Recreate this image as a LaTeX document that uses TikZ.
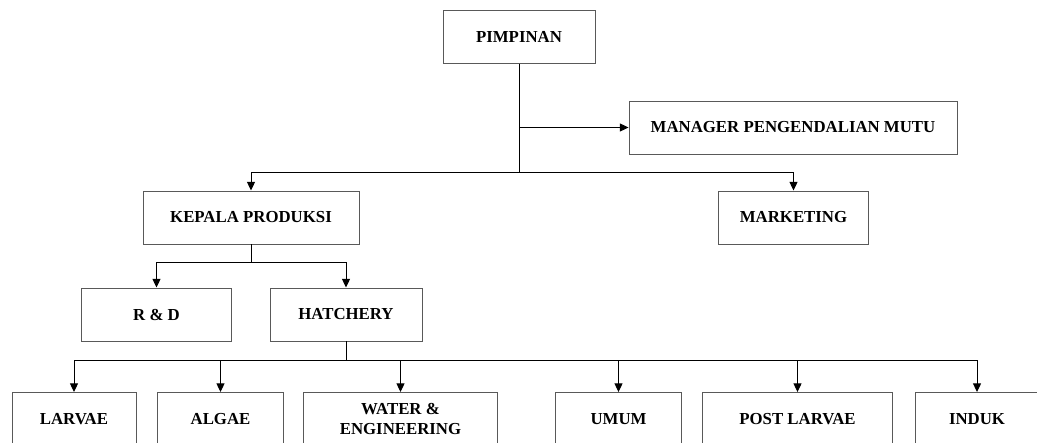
\documentclass[tikz,border=0pt]{standalone}
\usepackage{fontspec}
\setmainfont{Liberation Serif}
\usetikzlibrary{arrows.meta}

\tikzset{
  unit/.style={x=0.75pt,y=-0.75pt},
  box/.style={draw=black!65,line width=0.7pt,inner sep=0pt,minimum height=39.75pt,
    align=center,font=\fontsize{12.6}{14.5}\selectfont\bfseries},
  line/.style={line width=0.75pt},
  arr/.style={line width=0.75pt,-{Triangle[length=6.5pt,width=6pt]}}
}

\begin{document}
\begin{tikzpicture}[unit]
        \useasboundingbox (0,0) rectangle (1037,442);
        \clip (0,0) rectangle (1037,442);

        % top levels
        \node [box,minimum width=114pt] (pimpinan) at (519,37) {PIMPINAN};
        \node [box,minimum width=246pt] (manager) at (793,127.5) {MANAGER PENGENDALIAN MUTU};
        \node [box,minimum width=162pt] (kepala) at (251,217.5) {KEPALA PRODUKSI};
        \node [box,minimum width=113pt] (marketing) at (793.5,217.5) {MARKETING};
        \node [box,minimum width=113pt] (rnd) at (156.5,314.5) {R \& D};
        \node [box,minimum width=114pt] (hatchery) at (346,314.5) {HATCHERY};

        % bottom row (cut by the page edge)
        \node [box,minimum width=93pt] (larvae) at (74,419) {LARVAE};
        \node [box,minimum width=94pt] (algae) at (220.5,419) {ALGAE};
        \node [box,minimum width=145pt] (water) at (400.5,419) {WATER \&\\ENGINEERING};
        \node [box,minimum width=94pt] (umum) at (618.5,419) {UMUM};
        \node [box,minimum width=143pt] (post) at (797.5,419) {POST LARVAE};
        \node [box,minimum width=93pt] (induk) at (977,419) {INDUK};

        \coordinate (j1) at (519,172);
        \coordinate (j2) at (251,262);
        \coordinate (j3) at (346,360);

        \draw [line] (pimpinan.south) -- (j1);
        \draw [arr] (pimpinan.south |- manager.west) -- (manager.west);
        \draw [arr] (j1) -| (kepala.north);
        \draw [arr] (j1) -| (marketing.north);

        \draw [line] (kepala.south) -- (j2);
        \draw [arr] (j2) -| (rnd.north);
        \draw [arr] (j2) -| (hatchery.north);

        \draw [line] (hatchery.south) -- (j3);
        \foreach \n in {larvae,algae,water,umum,post,induk}
          \draw [arr] (j3) -| (\n.north);
\end{tikzpicture}
\end{document}
